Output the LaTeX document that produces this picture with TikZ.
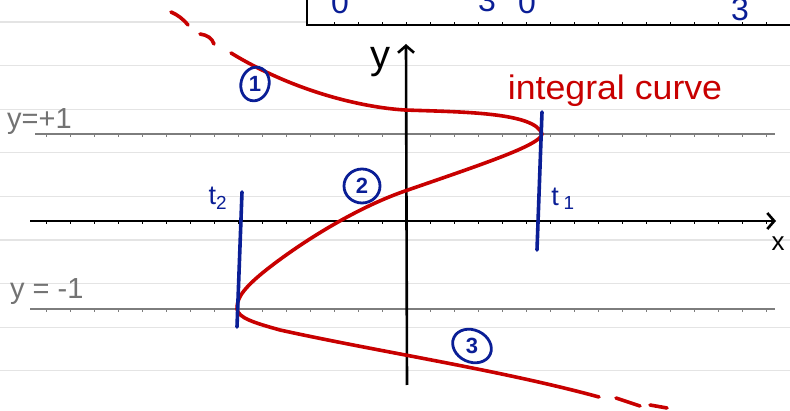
\documentclass[tikz,border=0pt]{standalone}
\usepackage{fontspec}
\setmainfont{Liberation Sans}
\usetikzlibrary{arrows.meta,shapes.geometric}
\definecolor{curvered}{RGB}{200,0,0}
\definecolor{inkblue}{RGB}{10,30,150}
\definecolor{rulegray}{RGB}{228,228,228}
\definecolor{linegray}{RGB}{125,125,125}
\definecolor{labelgray}{RGB}{115,115,115}
\begin{document}
\begin{tikzpicture}[x=1pt,y=-1pt,
  rule/.style={rulegray,line width=1.3pt},
  levelline/.style={linegray,line width=1.8pt},
  axisline/.style={black,line width=2.6pt},
  tickmark/.style={line width=0.7pt},
  curve/.style={curvered,line width=3.6pt,line cap=round,line join=round},
  tline/.style={inkblue,line width=3.6pt,line cap=round},
  circnum/.style={text=inkblue,inner sep=0pt,font=\fontsize{22}{22}\selectfont\bfseries},
  ring/.style={draw=inkblue,line width=2.8pt},
  bluelabel/.style={text=inkblue,font=\fontsize{27}{27}\selectfont},
  graylabel/.style={text=labelgray,font=\fontsize{29}{29}\selectfont},
  blackletter/.style={text=black,inner sep=0pt},
  topdigit/.style={text=inkblue,anchor=base,inner sep=0pt,font=\fontsize{32}{32}\selectfont},
  barb/.style={-{Straight Barb[length=7pt,width=16pt,line width=2.6pt]}},
]
\useasboundingbox (0,0) rectangle (790,411);
\clip (0,0) rectangle (790,411);
\fill[white] (0,0) rectangle (790,411);

% notebook ruling
\foreach \yy in {22,65.6,109.2,152.8,196.4,240,283.6,327.2,370.8}
  \draw[rule] (0,\yy) -- (790,\yy);

% top box (cut off at the top edge, as in the reference)
\draw[axisline,fill=white] (307,-10) rectangle (800,25);
\foreach \xx in {334,358,382,406,430,454,478,502,526,550,574,598,622,646,670,694,718,742,766}
  \draw[tickmark] (\xx,25) -- (\xx,22);
\node[topdigit] (d1) at (340,14) {0};
\node[topdigit] (d2) at (487,12) {3};
\node[topdigit] (d3) at (527,14) {0};
\node[topdigit] (d4) at (740,21) {3};

% level lines y=+1 and y=-1
\coordinate (p1s) at (35,134);  \coordinate (p1e) at (775,134);
\coordinate (m1s) at (30,309);  \coordinate (m1e) at (775,309);
\draw[levelline] (p1s) -- (p1e);
\draw[levelline] (m1s) -- (m1e);
\foreach \xx in {46,70,94,118,142,166,190,214,238,262,286,310,334,358,382,430,454,478,502,526,550,574,598,622,646,670,694,718,742,766}{
  \draw[tickmark,linegray] (\xx,134) -- (\xx,137);
  \draw[tickmark,linegray] (\xx,309) -- (\xx,312);
  \draw[tickmark] (\xx,221) -- (\xx,224);
}

% axes
\coordinate (xs) at (30,221);  \coordinate (xe) at (776,221);
\coordinate (ys) at (407,385); \coordinate (ye) at (406,44);
\draw[axisline,barb] (xs) -- (xe);
\draw[axisline,barb] (ys) -- (ye);
\node[blackletter,font=\fontsize{40}{40}\selectfont] (ylab) at (380,62) {y};
\node[blackletter,font=\fontsize{26}{26}\selectfont] (xlab) at (778,244) {x};

% level labels
\node[graylabel,anchor=base west,inner sep=0pt] (lp1) at (7,129) {y=+1};
\node[graylabel,anchor=base west,inner sep=0pt] (lm1) at (10,299) {y = -1};

% integral curve
\draw[curve]
  (231,53) .. controls (300,95) and (370,108) .. (405,110)
  .. controls (460,112) and (535,112) .. (542,134)
  .. controls (541,145) and (480,165) .. (405,191)
  .. controls (350,210) and (290,250) .. (260,275)
  .. controls (240,292) and (237,300) .. (237,309)
  .. controls (238,318) and (255,323) .. (280,330)
  .. controls (380,352) and (500,370) .. (599,397);
% dashed continuations
\draw[curve] (171,12) .. controls (178,15) and (183,19) .. (188,25);
\draw[curve] (200,34) .. controls (207,35) and (212,38) .. (214,44);
\draw[curve] (616,398) -- (640,406);
\draw[curve] (650,405) -- (667,408);

\node[text=curvered,font=\fontsize{34}{34}\selectfont,xscale=1.05,anchor=base,inner sep=0pt]
  (lab) at (615,100) {integral curve};

% t1 and t2
\coordinate (t1a) at (542,112); \coordinate (t1b) at (537,250);
\coordinate (t2a) at (242,192); \coordinate (t2b) at (237,327);
\draw[tline] (t1a) -- (t1b);
\draw[tline] (t2a) -- (t2b);
\node[bluelabel,inner sep=0pt] (t2lab) at (218,198) {t\textsubscript{2}};
\node[bluelabel,inner sep=0pt] (t1lab) at (563,199) {t\,\textsubscript{1}};

% circled branch numbers
\node[circnum] (c1) at (255,84) {1};
\node[circnum] (c2) at (362,186) {2};
\node[circnum] (c3) at (472,346) {3};
\draw[ring,rotate around={-15:(c1)}] (c1) ellipse [x radius=14, y radius=17];
\draw[ring] (c2) ellipse [x radius=18, y radius=17];
\draw[ring,rotate around={-25:(c3)}] (c3) ellipse [x radius=20, y radius=16];
\end{tikzpicture}
\end{document}
